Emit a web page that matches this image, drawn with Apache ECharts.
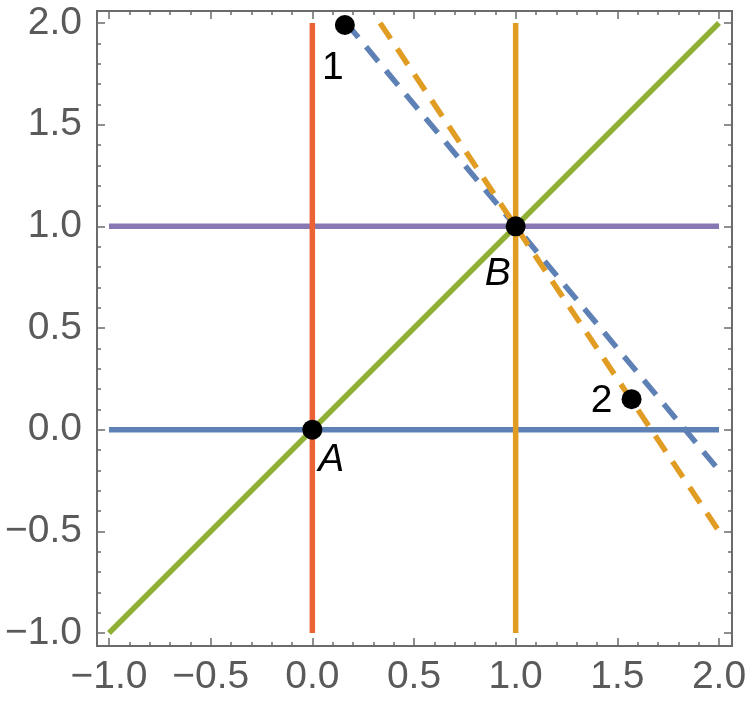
<!DOCTYPE html>
<html>
<head>
<meta charset="utf-8">
<script src="https://cdn.jsdelivr.net/npm/echarts@6/dist/echarts.min.js"></script>
<style>
html, body { margin: 0; padding: 0; background: #fff; }
#main { width: 750px; height: 709px; }
</style>
</head>
<body>
<div id="main"></div>
<script>
// line end points [x, y]
var blueLine = [[-1, 0], [2, 0]];
var purpleLine = [[-1, 1], [2, 1]];
var redLine = [[0, -1], [0, 2]];
var orangeLine = [[1, -1], [1, 2]];
var greenLine = [[-1, -1], [2, 2]];
var blueDashed = [[0.1667, 2], [2, -0.2]];
var orangeDashed = [[0.3333, 2], [2, -0.5]];

// marked points
var pointNames = ['1', 'B', 'A', '2'];
var pointX = [0.16, 1, 0, 1.57];
var pointY = [1.99, 1, 0, 0.15];

// axis range
var axisMin = -1;
var axisMax = 2;

var frameColor = '#6b6b6b';
var labelFont = 'Liberation Sans';

// label placement relative to each point
var labelOffsets = [[-12, 43], [-18, 48], [19, 30], [-30, 2]];
var labelItalic = [false, true, true, false];

function fmt(v) {
    return v.toFixed(1).replace('-', '\u2212');
}

// tick axis, pushed out onto the frame (mathematica pads the plot range)
function makeAxis(pos, showLabel, off) {
    return {
        type: 'value',
        gridIndex: 0,
        position: pos,
        offset: off,
        min: axisMin,
        max: axisMax,
        interval: 0.5,
        axisLine: { show: false, onZero: false },
        axisTick: { show: true, inside: true, length: 8, lineStyle: { color: frameColor, width: 1.5 } },
        minorTick: { show: true, splitNumber: 5, length: 4, lineStyle: { color: frameColor, width: 1.5 } },
        splitLine: { show: false },
        axisLabel: {
            show: showLabel,
            color: '#5a5a5a',
            fontFamily: labelFont,
            fontSize: 39,
            margin: pos === 'left' ? 15 : 12,
            formatter: fmt
        }
    };
}

function frameAxis() {
    return { type: 'value', gridIndex: 1, show: false, min: 0, max: 1 };
}

function lineSeries(data, color, dashed) {
    return {
        type: 'line',
        data: data,
        showSymbol: false,
        symbol: 'none',
        silent: true,
        z: 2,
        lineStyle: {
            color: color,
            width: 5.5,
            type: dashed ? [19, 12] : 'solid',
            cap: 'butt'
        }
    };
}

var points = [];
for (var i = 0; i < pointNames.length; i++) {
    points.push({
        value: [pointX[i], pointY[i]],
        name: pointNames[i],
        label: {
            offset: labelOffsets[i],
            fontStyle: labelItalic[i] ? 'italic' : 'normal'
        }
    });
}

var option = {
    animation: false,
    backgroundColor: '#fff',
    grid: [
        { left: 109, right: 31, top: 23, bottom: 76 },
        { left: 97, right: 18, top: 11, bottom: 63, show: true, borderColor: frameColor, borderWidth: 2, backgroundColor: 'transparent' }
    ],
    xAxis: [makeAxis('bottom', true, 13), makeAxis('top', false, 12), frameAxis()],
    yAxis: [makeAxis('left', true, 12), makeAxis('right', false, 13), frameAxis()],
    series: [
        lineSeries(blueLine, '#5e81b5', false),
        lineSeries(purpleLine, '#8778b3', false),
        lineSeries(redLine, '#eb6235', false),
        lineSeries(orangeLine, '#e19c24', false),
        lineSeries(greenLine, '#8fb032', false),
        lineSeries(blueDashed, '#5e81b5', true),
        lineSeries(orangeDashed, '#e19c24', true),
        {
            type: 'scatter',
            data: points,
            symbolSize: 20,
            z: 10,
            itemStyle: { color: '#000', opacity: 1 },
            silent: true,
            label: {
                show: true,
                position: 'inside',
                formatter: '{b}',
                color: '#000',
                fontFamily: labelFont,
                fontSize: 39
            }
        }
    ]
};

var myechart = echarts.init(document.getElementById('main'));
myechart.setOption(option);
</script>
</body>
</html>
